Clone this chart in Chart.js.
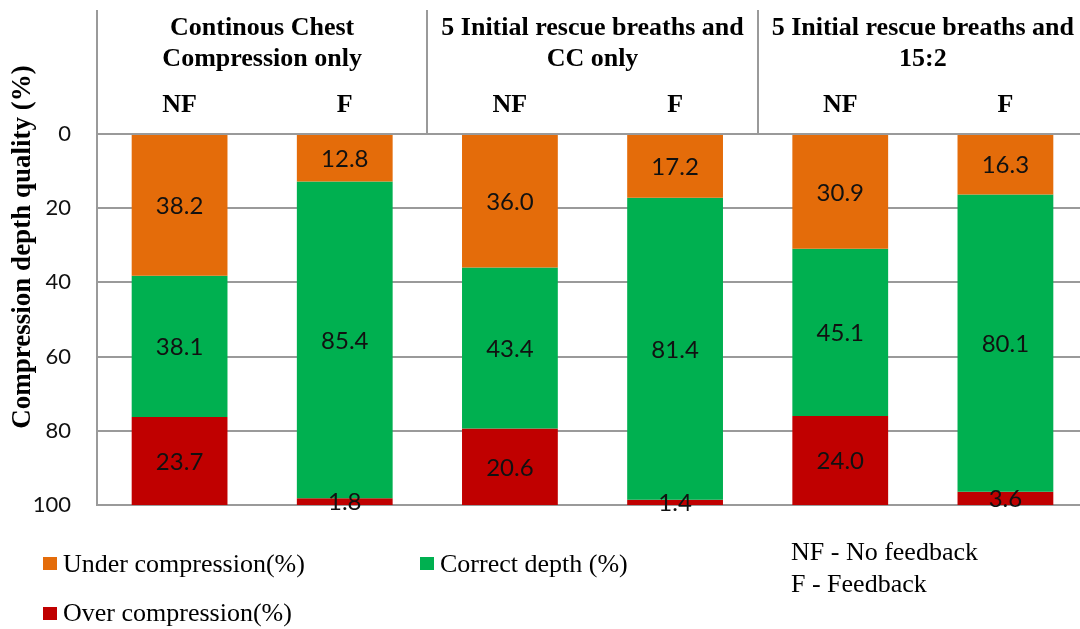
<!DOCTYPE html>
<html>
<head>
<meta charset="utf-8">
<script src="https://cdn.jsdelivr.net/npm/chart.js@4"></script>
<style>
  html, body { margin: 0; padding: 0; background: #fff; overflow: hidden; }
  #wrap { position: relative; width: 1088px; height: 629px; }
</style>
</head>
<body>
<div id="wrap"><canvas id="chart"></canvas></div>
<script>
// Compression depth quality per condition (NF = no feedback, F = feedback)
const categories = ['NF', 'F', 'NF', 'F', 'NF', 'F'];
const groupTitles = [
  ['Continous Chest', 'Compression only'],
  ['5 Initial rescue breaths and', 'CC only'],
  ['5 Initial rescue breaths and', '15:2']
];
const seriesNames = ['Under compression(%)', 'Correct depth (%)', 'Over compression(%)'];
const underCompression = [38.2, 12.8, 36.0, 17.2, 30.9, 16.3];
const correctDepth     = [38.1, 85.4, 43.4, 81.4, 45.1, 80.1];
const overCompression  = [23.7, 1.8, 20.6, 1.4, 24.0, 3.6];
const yTicks = [0, 20, 40, 60, 80, 100];
const axisTitle = 'Compression depth quality (%)';
const keyNotes = ['NF - No feedback', 'F - Feedback'];

const colors = ['#E46C0A', '#00B050', '#C00000'];
const gridColor = '#9a9a9a';
const serif = "'Liberation Serif', 'Times New Roman', serif";
const sans = "Lato, 'Open Sans', sans-serif";

// Draws value labels, the header band, the axis title and the key
const decorations = {
  id: 'decorations',
  afterDatasetsDraw(chart) {
    const ctx = chart.ctx;
    ctx.save();
    ctx.fillStyle = '#111';
    ctx.font = '24px ' + sans;
    ctx.textAlign = 'center';
    ctx.textBaseline = 'middle';
    chart.data.datasets.forEach((ds, di) => {
      const meta = chart.getDatasetMeta(di);
      meta.data.forEach((bar, i) => {
        const v = ds.data[i];
        const cy = (bar.y + bar.base) / 2;
        ctx.fillText(v.toFixed(1), bar.x, cy + 1);
      });
    });
    ctx.restore();
  },
  afterDraw(chart) {
    const ctx = chart.ctx;
    const area = chart.chartArea;
    const xs = chart.scales.x;
    const half = (xs.getPixelForValue(1) - xs.getPixelForValue(0)) / 2;
    ctx.save();

    // separators in the header band (the first one continues the y axis)
    ctx.strokeStyle = gridColor;
    ctx.lineWidth = 2;
    for (let g = 0; g < groupTitles.length; g++) {
      const x = g === 0 ? area.left : Math.round(xs.getPixelForValue(g * 2) - half);
      ctx.beginPath();
      ctx.moveTo(x, 10);
      ctx.lineTo(x, area.top);
      ctx.stroke();
    }

    // group titles and NF / F labels
    ctx.fillStyle = '#000';
    ctx.textAlign = 'center';
    ctx.textBaseline = 'alphabetic';
    ctx.font = 'bold 26px ' + serif;
    groupTitles.forEach((lines, g) => {
      const cx = (xs.getPixelForValue(g * 2) + xs.getPixelForValue(g * 2 + 1)) / 2;
      ctx.fillText(lines[0], cx, 35);
      ctx.fillText(lines[1], cx, 66);
    });
    categories.forEach((c, i) => {
      ctx.fillText(c, xs.getPixelForValue(i), 112);
    });

    // y axis title
    ctx.save();
    ctx.translate(23, 247);
    ctx.rotate(-Math.PI / 2);
    ctx.textBaseline = 'middle';
    ctx.font = 'bold 27px ' + serif;
    ctx.fillText(axisTitle, 0, 0);
    ctx.restore();

    // key
    ctx.textAlign = 'left';
    ctx.font = '26px ' + serif;
    const keyPos = [
      { sx: 43, sy: 557, tx: 63, ty: 572 },
      { sx: 420, sy: 557, tx: 440, ty: 572 },
      { sx: 43, sy: 607, tx: 63, ty: 621 }
    ];
    seriesNames.forEach((name, i) => {
      const p = keyPos[i];
      ctx.fillStyle = colors[i];
      ctx.fillRect(p.sx, p.sy, 14, 13);
      ctx.fillStyle = '#000';
      ctx.fillText(name, p.tx, p.ty);
    });
    ctx.fillText(keyNotes[0], 791, 560);
    ctx.fillText(keyNotes[1], 791, 592);
    ctx.restore();
  }
};

const seriesValues = [underCompression, correctDepth, overCompression];

new Chart(document.getElementById('chart'), {
  type: 'bar',
  data: {
    labels: categories,
    datasets: seriesNames.map((name, i) => ({
      label: name,
      data: seriesValues[i],
      backgroundColor: colors[i],
      borderWidth: 0,
      barPercentage: 0.58,
      categoryPercentage: 1
    }))
  },
  options: {
    responsive: true,
    maintainAspectRatio: false,
    animation: false,
    devicePixelRatio: 1,
    layout: { padding: { top: 134, bottom: 124, left: 0, right: 0 } },
    plugins: {
      legend: { display: false },
      tooltip: { enabled: false }
    },
    scales: {
      x: {
        stacked: true,
        display: false
      },
      y: {
        stacked: true,
        reverse: true,
        min: 0,
        max: 100,
        afterBuildTicks(scale) {
          scale.ticks = yTicks.map(v => ({ value: v }));
        },
        afterFit(scale) { scale.width = 97; },
        ticks: {
          color: '#111',
          font: { family: sans, size: 22 },
          padding: 26
        },
        grid: {
          color: gridColor,
          lineWidth: 2,
          drawTicks: false
        },
        border: { color: gridColor, width: 2 }
      }
    }
  },
  plugins: [decorations]
});
</script>
</body>
</html>
